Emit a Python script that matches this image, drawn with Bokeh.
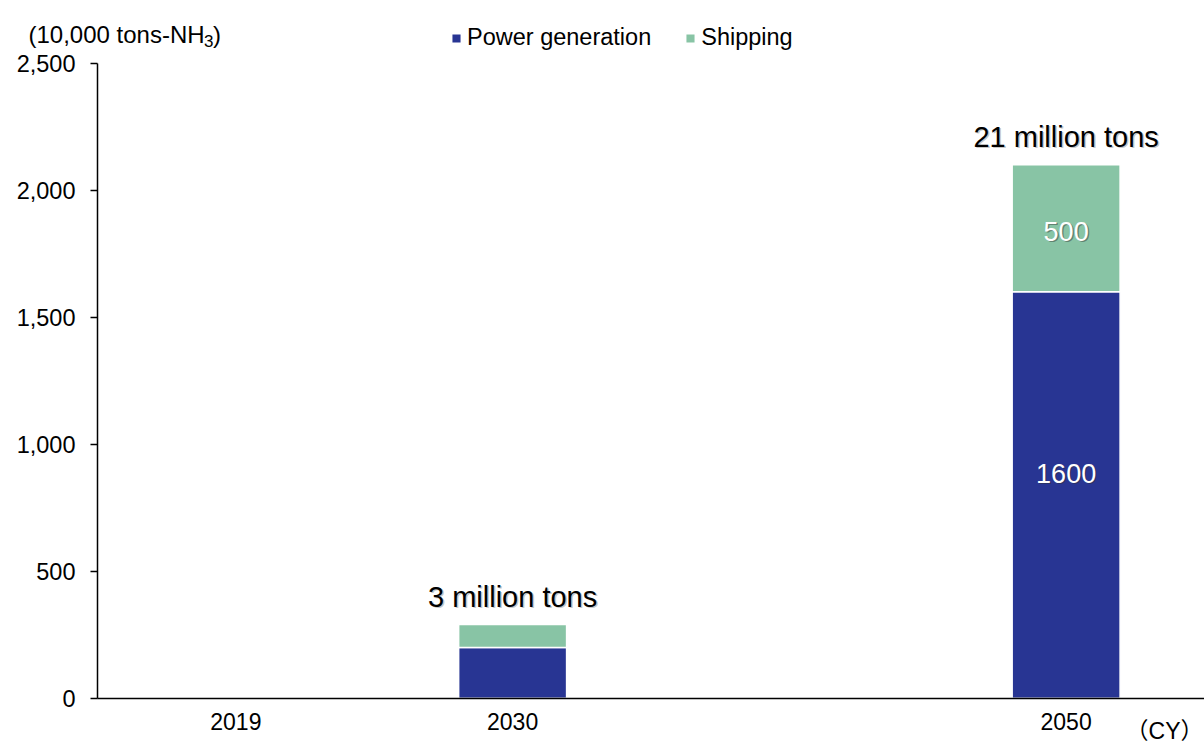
from bokeh.plotting import figure
from bokeh.models import (ColumnDataSource, Range1d, NumeralTickFormatter, FixedTicker,
                          LinearAxis, Label)
from bokeh.core.properties import value
from bokeh.embed import file_html
from bokeh.resources import INLINE

# Ammonia demand outlook (10,000 tons of NH3)
years = ["2019", "2030", "2050"]
power = [0, 200, 1600]
shipping = [0, 90, 500]
total_text = ["", "3 million tons", "21 million tons"]
axis_slots = ["2019", "2030", "", "2050"]     # one empty slot between 2030 and 2050
series_names = ["Power generation", "Shipping"]
y_ticks = [0, 500, 1000, 1500, 2000, 2500]

BLUE = "#283593"
GREEN = "#88C4A5"
FONT = "Liberation Sans"
CJK_FONT = "Liberation Sans, 'Noto Sans CJK JP'"

W, H = 1204, 742
# the plot area spans the whole canvas; the axes sit at fixed data positions
X_START, X_END = -0.3505, len(axis_slots)
Y_START, Y_END = -174.4, 2747.0

slot_x = {s: i + 0.5 for i, s in enumerate(axis_slots) if s}

keep = [i for i in range(len(years)) if power[i] + shipping[i] > 0]
bars = ColumnDataSource(dict(
    x=[slot_x[years[i]] for i in keep],
    power=[power[i] for i in keep],
    shipping=[shipping[i] for i in keep],
    total=[power[i] + shipping[i] for i in keep],
    total_text=[total_text[i] for i in keep],
))

big = [i for i in keep if power[i] >= 300]
power_lbl = ColumnDataSource(dict(
    x=[slot_x[years[i]] for i in big],
    mid=[power[i] / 2 for i in big],
    text=[str(power[i]) for i in big],
))
big = [i for i in keep if shipping[i] >= 300]
ship_lbl = ColumnDataSource(dict(
    x=[slot_x[years[i]] for i in big],
    mid=[power[i] + shipping[i] / 2 for i in big],
    text=[str(shipping[i]) for i in big],
))

p = figure(width=W, height=H, x_range=Range1d(X_START, X_END), y_range=Range1d(Y_START, Y_END),
           x_axis_type=None, y_axis_type=None,
           output_backend="svg", toolbar_location=None, min_border=0,
           background_fill_color="white", border_fill_color="white",
           outline_line_color=None)
p.xgrid.visible = False
p.ygrid.visible = False

p.vbar_stack(["power", "shipping"], x="x", width=0.39, source=bars,
             color=[BLUE, GREEN], line_color="white", line_width=1.5,
             legend_label=series_names)

# category axis along y = 0
xa = LinearAxis(fixed_location=0, bounds=(0, len(axis_slots)),
                ticker=FixedTicker(ticks=list(slot_x.values())),
                major_label_overrides={v: k for k, v in slot_x.items()})
xa.axis_line_color = "black"
xa.axis_line_width = 1.5
xa.major_tick_line_color = None
xa.minor_tick_line_color = None
xa.major_label_text_font = FONT
xa.major_label_text_font_size = "23px"
xa.major_label_text_color = "black"
xa.major_label_standoff = 9
p.add_layout(xa, "below")

# value axis at the left edge of the first slot
ya = LinearAxis(fixed_location=0, bounds=(0, y_ticks[-1]),
                ticker=FixedTicker(ticks=y_ticks),
                formatter=NumeralTickFormatter(format="0,0"))
ya.axis_line_color = "black"
ya.axis_line_width = 1.5
ya.major_tick_line_color = "black"
ya.major_tick_line_width = 1.5
ya.major_tick_out = 7
ya.major_tick_in = 0
ya.minor_tick_line_color = None
ya.major_label_text_font = FONT
ya.major_label_text_font_size = "23.5px"
ya.major_label_text_color = "black"
ya.major_label_standoff = 15
p.add_layout(ya, "left")

# totals above the bars, with a soft shadow
p.text(x="x", y="total", text="total_text", source=bars,
       text_font=value(FONT), text_font_size="29px", text_align="center",
       text_baseline="alphabetic", x_offset=1.5, y_offset=-26.5,
       text_color="#808080", text_alpha=0.45)
p.text(x="x", y="total", text="total_text", source=bars,
       text_font=value(FONT), text_font_size="29px", text_align="center",
       text_baseline="alphabetic", y_offset=-28, text_color="black")

# segment values
for src, dy in ((ship_lbl, 3), (power_lbl, -22)):
    p.text(x="x", y="mid", text="text", source=src,
           text_font=value(FONT), text_font_size="27px", text_align="center",
           text_baseline="middle", x_offset=1.5, y_offset=dy + 1.5,
           text_color="#303030", text_alpha=0.45)
    p.text(x="x", y="mid", text="text", source=src,
           text_font=value(FONT), text_font_size="27px", text_align="center",
           text_baseline="middle", y_offset=dy, text_color="white")

# unit caption with subscript
for txt, sx, sy, size in (("(10,000 tons-NH", 28, 708.5, "24px"),
                          ("3", 203.5, 702.0, "17px"),
                          (")", 212.5, 708.5, "24px")):
    p.add_layout(Label(x=sx, y=sy, x_units="screen", y_units="screen", text=txt,
                       text_font=FONT, text_font_size=size,
                       text_baseline="alphabetic", text_color="black"))

# calendar-year marker at the end of the x axis
p.add_layout(Label(x=1203, y=12, x_units="screen", y_units="screen", text="（CY）",
                   text_font=CJK_FONT, text_font_size="23px", text_align="right",
                   text_baseline="middle", text_color="black"))

leg = p.legend[0]
leg.orientation = "horizontal"
leg.location = (450, 691)
leg.border_line_color = None
leg.background_fill_alpha = 0
leg.padding = 0
leg.margin = 0
leg.spacing = 33
leg.glyph_width = 12
leg.glyph_height = 12
leg.label_standoff = 5
leg.label_text_font = FONT
leg.label_text_font_size = "23.5px"
leg.label_text_color = "black"

open("out.html", "w").write(file_html(p, INLINE))
